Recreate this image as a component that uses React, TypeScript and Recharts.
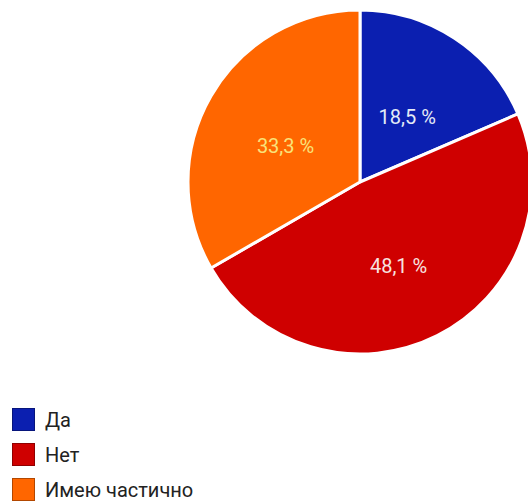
import { PieChart, Pie, Cell } from "recharts";

const labels = ["Да", "Нет", "Имею частично"];
const values = [18.5, 48.1, 33.3];
const colors = ["#0b1fb0", "#cf0000", "#ff6600"];
const labelColors = ["#e4ebf7", "#f7e4e0", "#f9e27a"];

const data = labels.map((name, i) => ({ name, value: values[i] }));

const RAD = Math.PI / 180;

function renderLabel(props: any) {
  const { cx, cy, midAngle, outerRadius, index, value } = props;
  const r = outerRadius * 0.5;
  const x = cx + r * Math.cos(-midAngle * RAD);
  const y = cy + r * Math.sin(-midAngle * RAD) + 7;
  return (
    <text
      x={x}
      y={y}
      fill={labelColors[index]}
      textAnchor="middle"
      dominantBaseline="central"
      fontSize={20}
      fontFamily="Roboto"
    >
      {value.toFixed(1).replace(".", ",")} %
    </text>
  );
}

function LegendList() {
  return (
    <div
      style={{
        position: "absolute",
        left: 0,
        top: 402,
        fontFamily: "Roboto",
        fontSize: 20,
        lineHeight: "22px",
        color: "#222",
      }}
    >
      {labels.map((l, i) => (
        <div key={l} style={{ display: "flex", alignItems: "center", height: 35 }}>
          <span
            style={{
              width: 23,
              height: 23,
              background: colors[i],
              marginLeft: 12,
              marginRight: 10,
              boxSizing: "border-box",
              border: "1px solid rgba(0,0,0,0.3)",
            }}
          />
          {l}
        </div>
      ))}
    </div>
  );
}

export default function App() {
  return (
    <div style={{ position: "absolute", left: 0, top: 0, width: 528, height: 501, background: "#fff" }}>
      <PieChart width={528} height={501} margin={{ top: 0, right: 0, bottom: 0, left: 0 }}>
        <Pie
          data={data}
          dataKey="value"
          nameKey="name"
          cx={360}
          cy={182}
          outerRadius={172}
          startAngle={90}
          endAngle={-270}
          stroke="#fff"
          strokeWidth={3}
          label={renderLabel}
          labelLine={false}
          isAnimationActive={false}
        >
          {data.map((d, i) => (
            <Cell key={d.name} fill={colors[i]} />
          ))}
        </Pie>
      </PieChart>
      <LegendList />
    </div>
  );
}
